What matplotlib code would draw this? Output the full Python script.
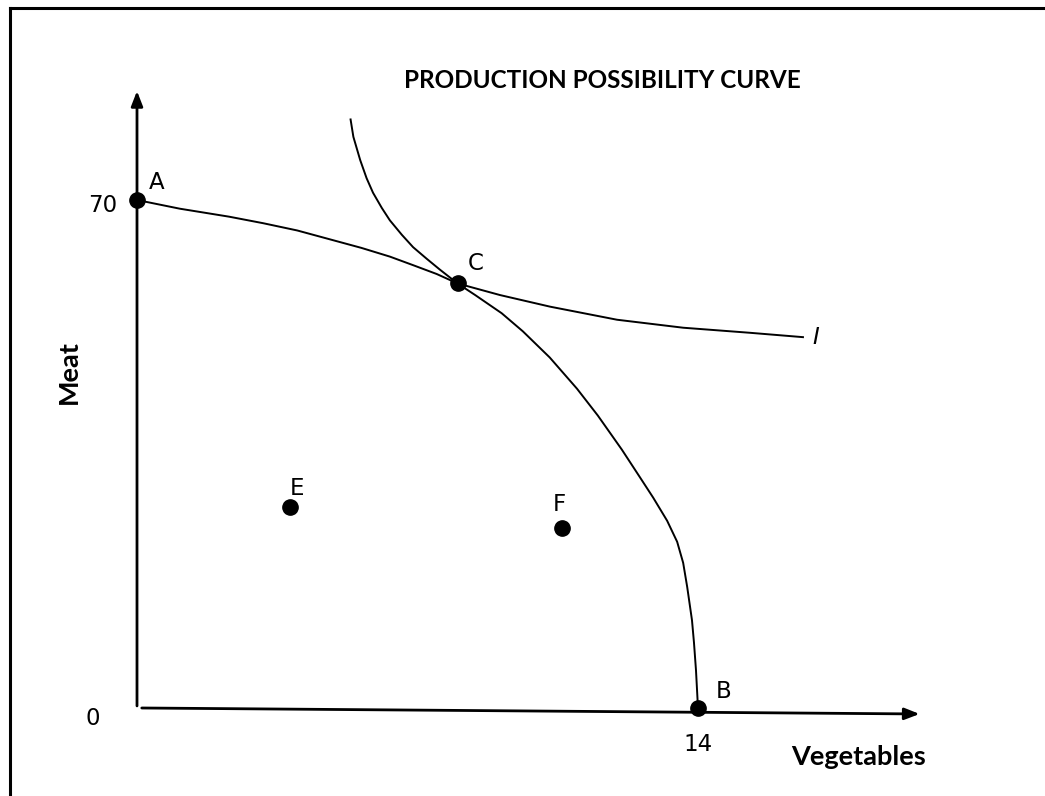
import numpy as np
import matplotlib
matplotlib.use("Agg")
import matplotlib.pyplot as plt

# production possibility curve (vegetables, meat)
ppc_veg = [0.0, 1.07, 2.3, 3.15, 4.0, 4.8, 5.6, 6.31, 6.9, 7.48, 8.0, 8.44, 9.1, 9.63,
           10.3, 10.98, 11.5, 12.1, 12.55, 12.88, 13.23, 13.48, 13.63, 13.73, 13.85, 13.9, 13.95, 14.0]
ppc_meat = [70.0, 68.8, 67.7, 66.8, 65.8, 64.6, 63.4, 62.2, 61.0, 59.8, 58.5, 56.9, 54.4, 51.9,
            48.3, 44.0, 40.3, 35.6, 31.8, 29.0, 25.8, 22.9, 20.0, 16.7, 12.1, 9.0, 5.2, 0.0]

# indifference curve I
ic_veg = [5.33, 5.40, 5.57, 5.73, 5.89, 6.11, 6.31, 6.61, 6.89, 7.23, 7.56, 8.0,
          9.06, 10.31, 11.98, 13.63, 15.3, 16.62]
ic_meat = [81.1, 78.7, 75.5, 73.0, 71.0, 68.9, 67.2, 65.2, 63.5, 61.9, 60.4, 58.5,
           56.9, 55.3, 53.5, 52.4, 51.7, 51.1]

# labelled points
pt_names = ["A", "C", "B", "E", "F"]
pt_veg = [0.0, 8.0, 14.0, 3.82, 10.6]
pt_meat = [70.0, 58.5, 0.0, 27.7, 24.8]

fig = plt.figure(figsize=(10.45, 7.96), dpi=100)
ax = fig.add_axes([0, 0, 1, 1])
ax.set_xlim(-3.419, 22.66)
ax.set_ylim(-12.13, 97.56)
ax.axis("off")

# frame (top and left only)
ax.plot([0.0096, 0.0096], [0, 0.99], color="black", lw=2.2, transform=ax.transAxes, clip_on=False)
ax.plot([0.0096, 1.0], [0.99, 0.99], color="black", lw=2.2, transform=ax.transAxes, clip_on=False)

# axes with arrows
ax.annotate("", xy=(0, 85.4), xytext=(0, -0.1),
            arrowprops=dict(arrowstyle="-|>,head_length=0.9,head_width=0.35", color="black", lw=2))
ax.annotate("", xy=(19.6, -0.83), xytext=(0.05, 0),
            arrowprops=dict(arrowstyle="-|>,head_length=0.9,head_width=0.35", color="black", lw=2))

ax.plot(ppc_veg, ppc_meat, color="black", lw=1.4, solid_joinstyle="round")
ax.plot(ic_veg, ic_meat, color="black", lw=1.4, solid_joinstyle="round")
ax.plot(pt_veg, pt_meat, "o", color="black", markersize=11, linestyle="none")

offsets = {"A": (0.5, 2.4), "C": (0.45, 2.8), "B": (0.65, 2.3), "E": (0.17, 2.6), "F": (-0.05, 3.3)}
for n, xv, yv in zip(pt_names, pt_veg, pt_meat):
    dx, dy = offsets[n]
    ax.text(xv + dx, yv + dy, n, fontsize=16.5, ha="center", va="center")

ax.text(16.95, 51.1, "I", fontsize=16.5, style="italic", ha="center", va="center")
ax.text(-0.85, 69.3, "70", fontsize=16.5, ha="center", va="center")
ax.text(-1.1, -1.4, "0", fontsize=16.5, ha="center", va="center")
ax.text(14.0, -5.1, "14", fontsize=16.5, ha="center", va="center")

ax.text(11.62, 86.5, "PRODUCTION POSSIBILITY CURVE", fontsize=17.5, fontweight="bold",
        family="Lato", ha="center", va="center")
ax.text(18.0, -6.7, "Vegetables", fontsize=19.5, fontweight="bold", family="Lato",
        ha="center", va="center")
ax.text(-1.7, 46.3, "Meat", fontsize=19.5, fontweight="bold", family="Lato",
        rotation=90, ha="center", va="center")

fig.savefig("out.png", dpi=100)
